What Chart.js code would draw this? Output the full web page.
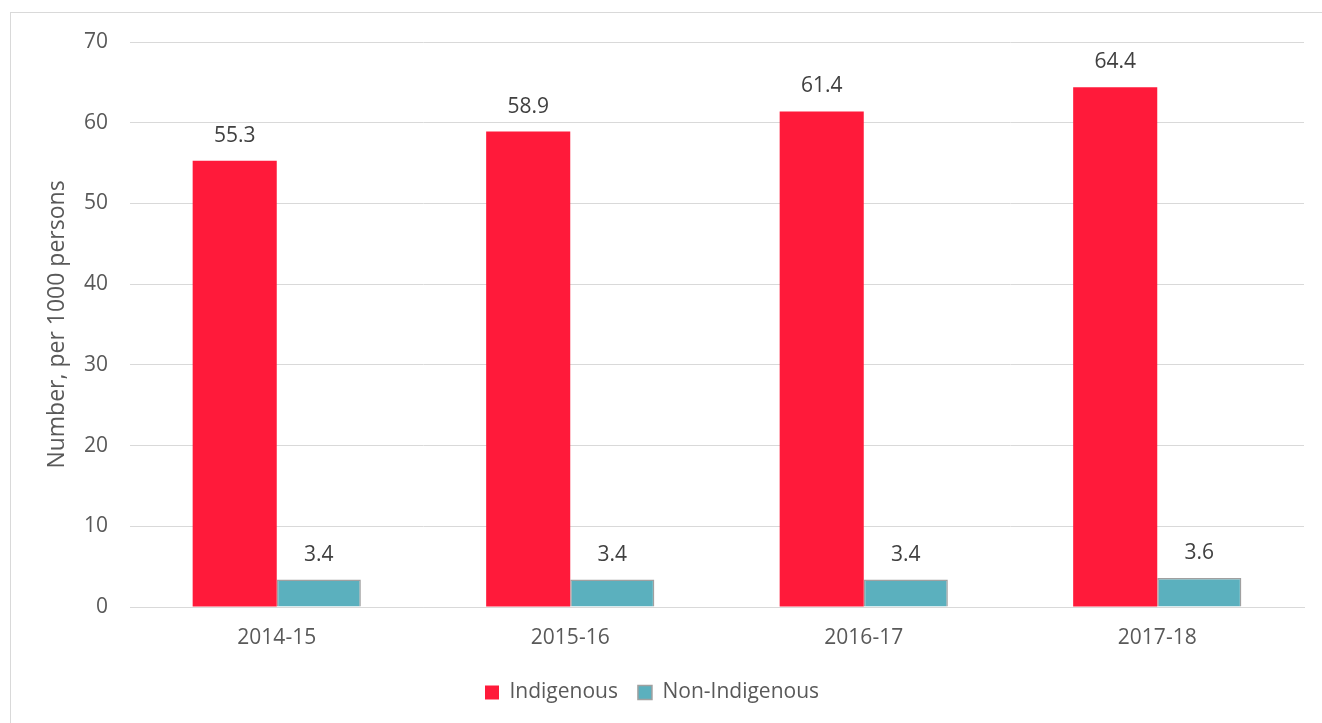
<!DOCTYPE html>
<html>
<head>
<meta charset="utf-8">
<script src="https://cdn.jsdelivr.net/npm/chart.js@4"></script>
<style>
    html, body { margin: 0; padding: 0; background: #fff; overflow: hidden; }
    #frame { position: absolute; left: 10px; top: 12px; width: 1340px; height: 740px; border: 1px solid #d9d9d9; }
    #wrap { position: absolute; left: 0; top: 0; width: 1322px; height: 723px; }
</style>
</head>
<body>
<div id="frame"></div>
<div id="wrap"><canvas id="rate-canvas"></canvas></div>
<script>
var years = ['2014-15', '2015-16', '2016-17', '2017-18'];
var indigenousData = [55.3, 58.9, 61.4, 64.4];
var nonIndigenousData = [3.4, 3.4, 3.4, 3.6];
var yTicks = [0, 10, 20, 30, 40, 50, 60, 70];

var textColor = '#595959';
var fontFamily = '"Open Sans", sans-serif';

// draws the value above each bar
var valueLabels = {
    id: 'valueLabels',
    afterDatasetsDraw: function(chart) {
        var ctx = chart.ctx;
        ctx.save();
        ctx.font = '21px ' + fontFamily;
        ctx.fillStyle = '#404040';
        ctx.textAlign = 'center';
        ctx.textBaseline = 'middle';
        chart.data.datasets.forEach(function(ds, i) {
            chart.getDatasetMeta(i).data.forEach(function(bar, j) {
                ctx.fillText(ds.data[j].toFixed(1), bar.x, bar.y - 25);
            });
        });
        ctx.restore();
    }
};

var ctx = document.getElementById('rate-canvas').getContext('2d');
var rateChart = new Chart(ctx, {
    type: 'bar',
    data: {
        labels: years,
        datasets: [
            {
                label: 'Indigenous',
                data: indigenousData,
                backgroundColor: '#FF1A3A',
                borderColor: '#FF1A3A',
                borderWidth: 0,
                categoryPercentage: 0.573,
                barPercentage: 1.0
            },
            {
                label: 'Non-Indigenous',
                data: nonIndigenousData,
                backgroundColor: '#5BB0BE',
                borderColor: '#A0A0A0',
                borderWidth: 1.5,
                categoryPercentage: 0.573,
                barPercentage: 1.0
            }
        ]
    },
    options: {
        responsive: true,
        maintainAspectRatio: false,
        animation: false,
        layout: {
            padding: { left: 0, top: 42, right: 18, bottom: 10 }
        },
        plugins: {
            legend: {
                position: 'bottom',
                labels: {
                    color: textColor,
                    boxWidth: 14,
                    boxHeight: 14,
                    padding: 20,
                    font: { family: fontFamily, size: 21 }
                }
            },
            tooltip: { enabled: false }
        },
        scales: {
            y: {
                min: 0,
                max: 70,
                afterBuildTicks: function(scale) {
                    scale.ticks = yTicks.map(function(v) { return { value: v }; });
                },
                afterFit: function(scale) { scale.width = 130; },
                ticks: {
                    color: textColor,
                    padding: 22,
                    font: { family: fontFamily, size: 21 }
                },
                grid: {
                    color: '#d9d9d9',
                    lineWidth: 1,
                    drawTicks: false
                },
                border: { display: false },
                title: {
                    display: true,
                    text: 'Number, per 1000 persons',
                    color: textColor,
                    padding: { top: 44, bottom: 0 },
                    font: { family: fontFamily, size: 23 }
                }
            },
            x: {
                afterFit: function(scale) { scale.height = 55; },
                ticks: {
                    color: textColor,
                    padding: 18,
                    font: { family: fontFamily, size: 21 }
                },
                grid: { display: false, drawTicks: false },
                border: { display: true, color: '#d9d9d9', width: 1 }
            }
        }
    },
    plugins: [valueLabels]
});
</script>
</body>
</html>
